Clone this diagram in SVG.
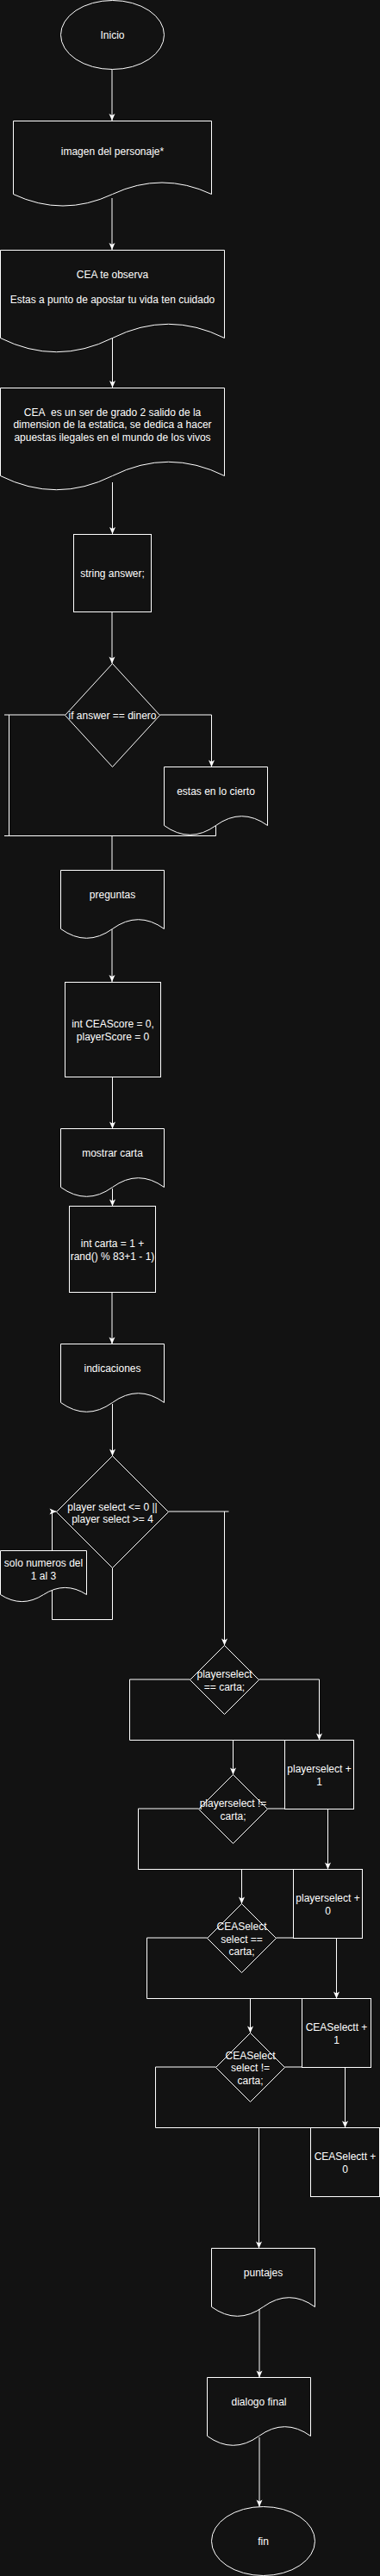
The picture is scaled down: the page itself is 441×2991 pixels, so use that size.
<svg xmlns="http://www.w3.org/2000/svg" width="441" height="2991" viewBox="0 0 441 2991">
<style>
.n{fill:#121212;stroke:#ffffff;stroke-width:1}
.e{fill:none;stroke:#ffffff;stroke-width:1}
.a{marker-end:url(#arr)}
.t{font-family:"Liberation Sans",Arial,Helvetica,sans-serif;font-size:12px;fill:#ffffff;text-anchor:middle}
</style>
<defs>
<marker id="arr" viewBox="-9 -5 10 10" refX="0" refY="0" markerWidth="10" markerHeight="10" markerUnits="userSpaceOnUse" orient="auto">
<path d="M0,0 L-8,-3.5 L-6,0 L-8,3.5 Z" fill="#ffffff" stroke="none"/>
</marker>
</defs>
<rect x="0" y="0" width="441" height="2991" fill="#121212"/>
<g id="connectors">
<path class="e a" d="M130,80.5 L130,140"/>
<path class="e a" d="M130,230 L130,290"/>
<path class="e a" d="M130.5,392 L130.5,450"/>
<path class="e a" d="M130.5,560 L130.5,620"/>
<path class="e a" d="M130,710.5 L130,770.5"/>
<path class="e" d="M75.5,830 L5,830"/>
<path class="e" d="M10.5,830 L10.5,970.5"/>
<path class="e" d="M5,970.5 L250.5,970.5"/>
<path class="e a" d="M185.5,830 L245.5,830 L245.5,890.5"/>
<path class="e" d="M250.5,958.5 L250.5,970.5"/>
<path class="e" d="M130,970.5 L130,1010.5"/>
<path class="e a" d="M130,1078 L130,1140"/>
<path class="e a" d="M130.5,1251 L130.5,1310.5"/>
<path class="e a" d="M130.5,1380 L130.5,1400.5"/>
<path class="e a" d="M130,1500.5 L130,1560.5"/>
<path class="e a" d="M130.5,1630 L130.5,1690.5"/>
<path class="e a" d="M130.5,1820.5 L130.5,1880.5 L60.5,1880.5 L60.5,1755 L65.5,1755"/>
<path class="e" d="M195.5,1755 L265.5,1755"/>
<path class="e a" d="M260.5,1755 L260.5,1910.5"/>
<path class="e" d="M220.5,1950 L150.5,1950 L150.5,2020.5 L330.5,2020.5"/>
<path class="e a" d="M300.5,1950 L370.5,1950 L370.5,2020.5"/>
<path class="e a" d="M270.5,2020.5 L270.5,2060.5"/>
<path class="e" d="M230.5,2100 L160.5,2100 L160.5,2170.5 L340.5,2170.5"/>
<path class="e a" d="M310.5,2100 L380.5,2100 L380.5,2170.5"/>
<path class="e a" d="M280.5,2170.5 L280.5,2210.5"/>
<path class="e" d="M240.5,2250 L170.5,2250 L170.5,2320.5 L350.5,2320.5"/>
<path class="e a" d="M320.5,2250 L390.5,2250 L390.5,2320.5"/>
<path class="e a" d="M290.5,2320.5 L290.5,2360.5"/>
<path class="e" d="M250.5,2400 L180.5,2400 L180.5,2470.5 L360.5,2470.5"/>
<path class="e a" d="M330.5,2400 L400.5,2400 L400.5,2470.5"/>
<path class="e a" d="M300.5,2470.5 L300.5,2610.5"/>
<path class="e a" d="M301,2681 L301,2760.5"/>
<path class="e a" d="M301,2830 L301,2910.5"/>
</g>
<g id="inicio">
<ellipse class="n" cx="130.5" cy="40.5" rx="60" ry="40"/>
<text class="t" x="130.5" y="45">Inicio</text>
</g>
<g id="imagen">
<path class="n" d="M15.5,140.5 L245.5,140.5 L245.5,225.5 Q188,198.5 130.5,225.5 Q73,252.5 15.5,225.5 Z"/>
<text class="t" x="130.5" y="180">imagen del personaje*</text>
</g>
<g id="observa">
<path class="n" d="M0.5,290.5 L260.5,290.5 L260.5,392.5 Q195.5,360.1 130.5,392.5 Q65.5,424.9 0.5,392.5 Z"/>
<text class="t" x="130.5" y="323">CEA te observa</text>
<text class="t" x="130.5" y="352">Estas a punto de apostar tu vida ten cuidado</text>
</g>
<g id="descripcion">
<path class="n" d="M0.5,450.5 L260.5,450.5 L260.5,552.5 Q195.5,520.1 130.5,552.5 Q65.5,584.9 0.5,552.5 Z"/>
<text class="t" x="130.5" y="483">CEA&#160; es un ser de grado 2 salido de la</text>
<text class="t" x="130.5" y="497">dimension de la estatica, se dedica a hacer</text>
<text class="t" x="130.5" y="511.5">apuestas ilegales en el mundo de los vivos</text>
</g>
<g id="answer">
<rect class="n" x="85.5" y="620.5" width="90" height="90"/>
<text class="t" x="130.5" y="670">string answer;</text>
</g>
<g id="if-dinero">
<path class="n" d="M130.5,770.5 L185.5,830.5 L130.5,890.5 L75.5,830.5 Z"/>
<text class="t" x="130.5" y="835">if answer == dinero</text>
</g>
<g id="cierto">
<path class="n" d="M190.5,890.5 L310.5,890.5 L310.5,958.5 Q280.5,936.9 250.5,958.5 Q220.5,980.1 190.5,958.5 Z"/>
<text class="t" x="250.5" y="923">estas en lo cierto</text>
</g>
<g id="preguntas">
<path class="n" d="M70.5,1010.5 L190.5,1010.5 L190.5,1078.5 Q160.5,1056.9 130.5,1078.5 Q100.5,1100.1 70.5,1078.5 Z"/>
<text class="t" x="130.5" y="1043">preguntas</text>
</g>
<g id="scores">
<rect class="n" x="75.5" y="1140.5" width="111" height="110"/>
<text class="t" x="131" y="1193">int CEAScore = 0,</text>
<text class="t" x="131" y="1208">playerScore = 0</text>
</g>
<g id="mostrar">
<path class="n" d="M70.5,1310.5 L190.5,1310.5 L190.5,1378.5 Q160.5,1356.9 130.5,1378.5 Q100.5,1400.1 70.5,1378.5 Z"/>
<text class="t" x="130.5" y="1343">mostrar carta</text>
</g>
<g id="carta">
<rect class="n" x="80.5" y="1400.5" width="100" height="100"/>
<text class="t" x="130.5" y="1448">int carta = 1 +</text>
<text class="t" x="130.5" y="1463">rand() % 83+1 - 1)</text>
</g>
<g id="indicaciones">
<path class="n" d="M70.5,1560.5 L190.5,1560.5 L190.5,1628.5 Q160.5,1606.9 130.5,1628.5 Q100.5,1650.1 70.5,1628.5 Z"/>
<text class="t" x="130.5" y="1593">indicaciones</text>
</g>
<g id="select-check">
<path class="n" d="M130.5,1690.5 L195.5,1755.5 L130.5,1820.5 L65.5,1755.5 Z"/>
<text class="t" x="130.5" y="1753.5">player select &lt;= 0 ||</text>
<text class="t" x="130.5" y="1768">player select &gt;= 4</text>
</g>
<g id="solo-numeros">
<path class="n" d="M0.5,1800.5 L100.5,1800.5 L100.5,1851.5 Q75.5,1835.3 50.5,1851.5 Q25.5,1867.7 0.5,1851.5 Z"/>
<text class="t" x="50.5" y="1819">solo numeros del</text>
<text class="t" x="50.5" y="1833.5">1 al 3</text>
</g>
<g id="player-eq">
<path class="n" d="M260.5,1910.5 L300.5,1950.5 L260.5,1990.5 L220.5,1950.5 Z"/>
<text class="t" x="260.5" y="1948">playerselect</text>
<text class="t" x="260.5" y="1963">== carta;</text>
</g>
<g id="player-plus1">
<rect class="n" x="330.5" y="2020.5" width="80" height="80"/>
<text class="t" x="370.5" y="2058">playerselect +</text>
<text class="t" x="370.5" y="2073">1</text>
</g>
<g id="player-neq">
<path class="n" d="M270.5,2060.5 L310.5,2100.5 L270.5,2140.5 L230.5,2100.5 Z"/>
<text class="t" x="270.5" y="2098">playerselect !=</text>
<text class="t" x="270.5" y="2112.5">carta;</text>
</g>
<g id="player-plus0">
<rect class="n" x="340.5" y="2170.5" width="80" height="80"/>
<text class="t" x="380.5" y="2208">playerselect +</text>
<text class="t" x="380.5" y="2223">0</text>
</g>
<g id="cea-eq">
<path class="n" d="M280.5,2210.5 L320.5,2250.5 L280.5,2290.5 L240.5,2250.5 Z"/>
<text class="t" x="280.5" y="2241">CEASelect</text>
<text class="t" x="280.5" y="2255.5">select ==</text>
<text class="t" x="280.5" y="2269.5">carta;</text>
</g>
<g id="cea-plus1">
<rect class="n" x="350.5" y="2320.5" width="80" height="80"/>
<text class="t" x="390.5" y="2358">CEASelectt +</text>
<text class="t" x="390.5" y="2373">1</text>
</g>
<g id="cea-neq">
<path class="n" d="M290.5,2360.5 L330.5,2400.5 L290.5,2440.5 L250.5,2400.5 Z"/>
<text class="t" x="290.5" y="2391">CEASelect</text>
<text class="t" x="290.5" y="2405">select !=</text>
<text class="t" x="290.5" y="2419.5">carta;</text>
</g>
<g id="cea-plus0">
<rect class="n" x="360.5" y="2470.5" width="80" height="80"/>
<text class="t" x="400.5" y="2508">CEASelectt +</text>
<text class="t" x="400.5" y="2522.5">0</text>
</g>
<g id="puntajes">
<path class="n" d="M245.5,2610.5 L365.5,2610.5 L365.5,2678.5 Q335.5,2656.9 305.5,2678.5 Q275.5,2700.1 245.5,2678.5 Z"/>
<text class="t" x="305.5" y="2643">puntajes</text>
</g>
<g id="dialogo">
<path class="n" d="M240.5,2760.5 L360.5,2760.5 L360.5,2828.5 Q330.5,2806.9 300.5,2828.5 Q270.5,2850.1 240.5,2828.5 Z"/>
<text class="t" x="300.5" y="2793">dialogo final</text>
</g>
<g id="fin">
<ellipse class="n" cx="305.5" cy="2950.5" rx="60" ry="40"/>
<text class="t" x="305.5" y="2955">fin</text>
</g>
</svg>
